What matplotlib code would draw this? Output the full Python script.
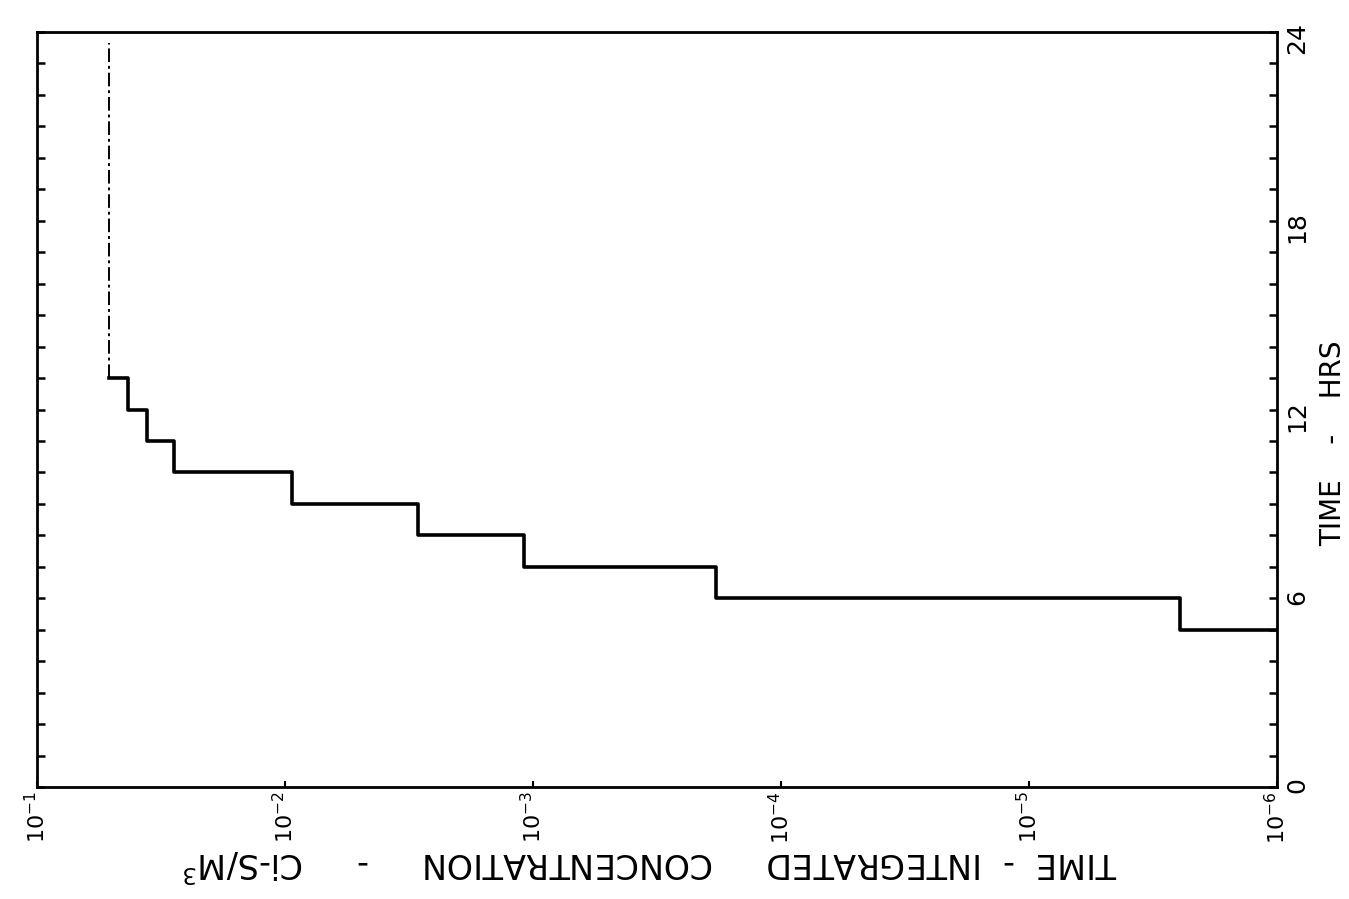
import matplotlib
matplotlib.use('Agg')
import matplotlib.pyplot as plt
import numpy as np
from matplotlib.ticker import FixedLocator, NullLocator

# concentration (Ci-s/m3) at each step, and the hour of the step below it
step_conc = [0.0513, 0.0430, 0.0360, 0.0281, 0.00938, 0.00291, 0.00109, 0.000183, 2.46e-6, 1e-6]
step_hours = [13, 12, 11, 10, 9, 8, 7, 6, 5, 5]

# the faint vertical part above 13 hrs
top_conc = [0.0513, 0.0513]
top_hours = [13, 23.65]

decades = [1e-1, 1e-2, 1e-3, 1e-4, 1e-5, 1e-6]
decade_labels = ['$10^{-1}$', '$10^{-2}$', '$10^{-3}$', '$10^{-4}$', '$10^{-5}$', '$10^{-6}$']
hour_ticks = [0, 6, 12, 18, 24]

fig = plt.figure(figsize=(13.49, 8.99), dpi=100)
ax = fig.add_axes([37 / 1349, 112 / 899, 1240 / 1349, 755 / 899])

ax.step(step_conc, step_hours, where='post', color='black', lw=2.6)
ax.plot(top_conc, top_hours, color='black', lw=1.4, linestyle=(0, (7, 2, 1.5, 2)))

ax.set_xscale('log')
ax.set_xlim(1e-1, 1e-6)
ax.set_ylim(0, 24)

for s in ax.spines.values():
    s.set_linewidth(2.0)

ax.xaxis.set_major_locator(FixedLocator(decades))
ax.xaxis.set_minor_locator(NullLocator())
ax.set_xticklabels(decade_labels)
ax.tick_params(axis='x', direction='in', length=4, width=1.5, labelsize=16,
               labelrotation=90, pad=3)

ax.yaxis.set_major_locator(FixedLocator(hour_ticks))
ax.yaxis.set_minor_locator(FixedLocator(np.arange(0, 25, 1)))
ax.tick_params(axis='y', which='both', direction='in', left=True, right=True,
               labelleft=False, labelright=True, length=6, width=1.8,
               labelsize=18, labelrotation=90, pad=6)

ax.set_xlabel('TIME  -  INTEGRATED     CONCENTRATION     -     Ci-S/M$^3$',
              fontsize=24, rotation=180)
ax.xaxis.set_label_coords((650 - 37) / 1240, -77 / 755)
ax.xaxis.label.set_verticalalignment('center')

ax.yaxis.set_label_position('right')
ax.set_ylabel('TIME    -    HRS', fontsize=20, rotation=90)
ax.yaxis.set_label_coords((1333 - 37) / 1240, (787 - 443) / 755)
ax.yaxis.label.set_verticalalignment('center')

fig.savefig('out.png', dpi=100)
